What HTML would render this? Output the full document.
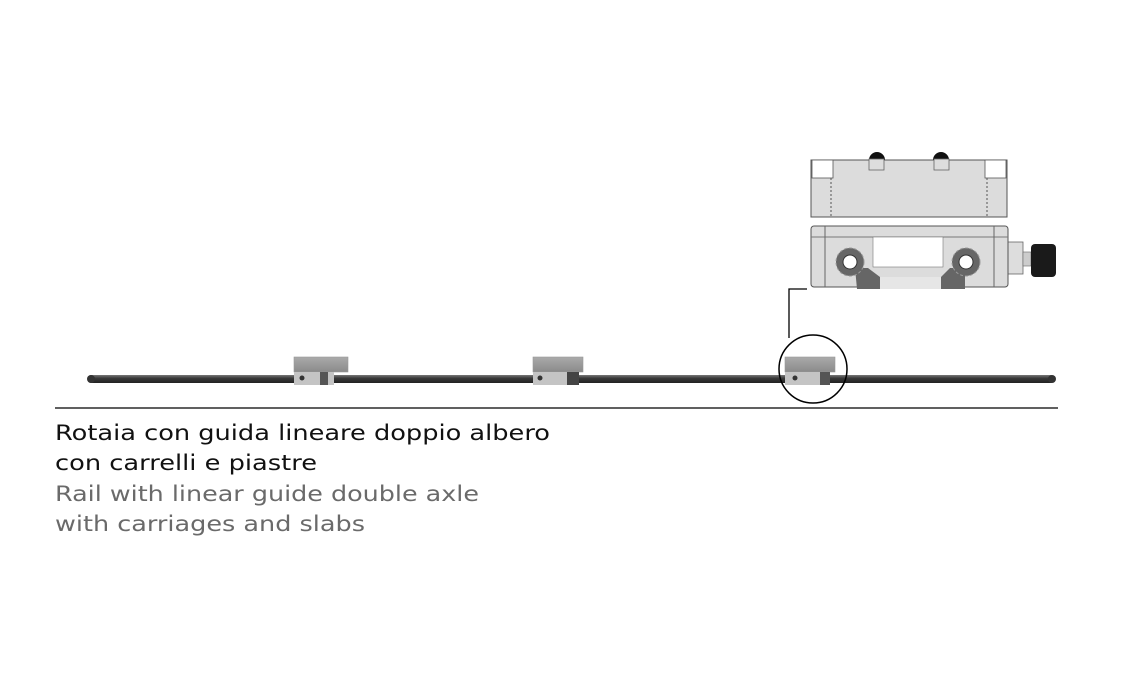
<!DOCTYPE html>
<html><head><meta charset="utf-8"><style>html,body{margin:0;padding:0;background:#fff}svg{display:block}</style></head>
<body>
<svg width="1121" height="695" viewBox="0 0 1121 695" xmlns="http://www.w3.org/2000/svg">
<defs>
<linearGradient id="rail" x1="0" y1="0" x2="0" y2="1"><stop offset="0" stop-color="#777"/><stop offset="0.4" stop-color="#3a3a3a"/><stop offset="1" stop-color="#222"/></linearGradient>
<linearGradient id="blk" x1="0" y1="0" x2="0" y2="1"><stop offset="0" stop-color="#aaa"/><stop offset="1" stop-color="#8a8a8a"/></linearGradient>
</defs>
<rect x="88" y="375" width="966" height="8" rx="3" fill="url(#rail)"/>
<circle cx="91" cy="379" r="4" fill="#333"/><circle cx="1052" cy="379" r="4" fill="#333"/>
<g>
<rect x="294" y="357" width="54" height="15" fill="url(#blk)" stroke="#999" stroke-width="0.6"/>
<rect x="294" y="372" width="40" height="13" fill="#c4c4c4"/><rect x="320" y="372" width="8" height="13" fill="#555"/>
<circle cx="302" cy="378" r="2.5" fill="#333"/>
</g>
<g>
<rect x="533" y="357" width="50" height="15" fill="url(#blk)" stroke="#999" stroke-width="0.6"/>
<rect x="533" y="372" width="36" height="13" fill="#c4c4c4"/><rect x="567" y="372" width="12" height="13" fill="#444"/>
<circle cx="540" cy="378" r="2.5" fill="#333"/>
</g>
<g>
<rect x="785" y="357" width="50" height="15" fill="url(#blk)" stroke="#999" stroke-width="0.6"/>
<rect x="785" y="372" width="36" height="13" fill="#c4c4c4"/><rect x="820" y="372" width="10" height="13" fill="#555"/>
<circle cx="795" cy="378" r="2.5" fill="#333"/>
</g>
<circle cx="813" cy="369" r="34" fill="none" stroke="#000" stroke-width="1.5"/>
<polyline points="789,338 789,289 807,289" fill="none" stroke="#000" stroke-width="1.3"/>
<line x1="55" y1="408" x2="1058" y2="408" stroke="#000" stroke-width="1.3"/>
<!-- detail top block -->
<rect x="811" y="160" width="196" height="57" fill="#dcdcdc" stroke="#555" stroke-width="1"/>
<rect x="812" y="160" width="21" height="18" fill="#fff" stroke="#555" stroke-width="0.8"/>
<rect x="985" y="160" width="21" height="18" fill="#fff" stroke="#555" stroke-width="0.8"/>
<line x1="831" y1="178" x2="831" y2="217" stroke="#555" stroke-dasharray="2,2"/>
<line x1="987" y1="178" x2="987" y2="217" stroke="#555" stroke-dasharray="2,2"/>
<path d="M869,160 A8,8 0 0 1 885,160 Z" fill="#111"/>
<path d="M933,160 A8,8 0 0 1 949,160 Z" fill="#111"/>
<rect x="869" y="159" width="15" height="11" fill="#ddd" stroke="#666" stroke-width="0.8"/>
<rect x="934" y="159" width="15" height="11" fill="#ddd" stroke="#666" stroke-width="0.8"/>
<!-- detail bottom block -->
<rect x="1008" y="242" width="15" height="32" fill="#ddd" stroke="#666" stroke-width="0.8"/>
<rect x="1023" y="252" width="8" height="14" fill="#ccc" stroke="#666" stroke-width="0.6"/>
<rect x="1031" y="244" width="25" height="33" rx="4" fill="#1a1a1a"/>
<rect x="811" y="226" width="197" height="61" rx="3" fill="#dcdcdc" stroke="#555" stroke-width="1"/>
<line x1="811" y1="237" x2="1008" y2="237" stroke="#777"/>
<line x1="825" y1="226" x2="825" y2="287" stroke="#666"/>
<line x1="994" y1="226" x2="994" y2="287" stroke="#666"/>
<rect x="873" y="237" width="70" height="30" fill="#fff" stroke="#777" stroke-width="0.6"/>
<path d="M855,268 L868,268 L880,277 L941,277 L950,268 L965,268 L965,289 L857,289 Z" fill="#666"/>
<rect x="880" y="277" width="61" height="12" fill="#e6e6e6"/>
<circle cx="850" cy="262" r="14" fill="#666" stroke="#999" stroke-dasharray="3,2"/>
<circle cx="850" cy="262" r="7" fill="#fff" stroke="#333"/>
<circle cx="966" cy="262" r="14" fill="#666" stroke="#999" stroke-dasharray="3,2"/>
<circle cx="966" cy="262" r="7" fill="#fff" stroke="#333"/>
<g font-family="'DejaVu Sans', sans-serif" font-size="21">
<text x="55" y="440" fill="#111" textLength="495" lengthAdjust="spacingAndGlyphs">Rotaia con guida lineare doppio albero</text>
<text x="55" y="470" fill="#111" textLength="262" lengthAdjust="spacingAndGlyphs">con carrelli e piastre</text>
<text x="55" y="501" fill="#6a6a6a" textLength="424" lengthAdjust="spacingAndGlyphs">Rail with linear guide double axle</text>
<text x="55" y="531" fill="#6a6a6a" textLength="310" lengthAdjust="spacingAndGlyphs">with carriages and slabs</text>
</g>
</svg>
</body></html>
